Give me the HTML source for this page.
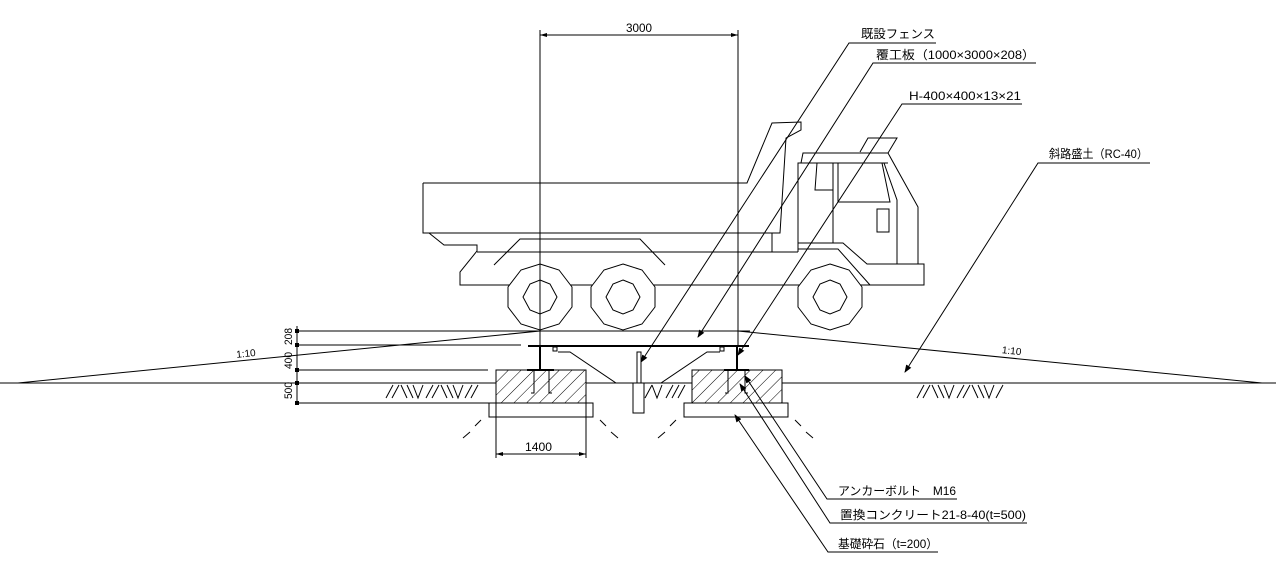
<!DOCTYPE html>
<html><head><meta charset="utf-8"><style>
html,body{margin:0;padding:0;background:#fff;}
svg{display:block;}
text{font-family:"Liberation Sans","Noto Sans CJK JP",sans-serif;fill:#000;}
</style></head><body>
<svg width="1276" height="562" viewBox="0 0 1276 562" xmlns="http://www.w3.org/2000/svg">
<defs>
<pattern id="h" width="9" height="9" patternUnits="userSpaceOnUse" patternTransform="rotate(45)">
<line x1="0" y1="0" x2="0" y2="9" stroke="#000" stroke-width="1"/>
</pattern>
<marker id="a" markerWidth="8" markerHeight="6" refX="7" refY="3" orient="auto" markerUnits="userSpaceOnUse"><path d="M0,0 L8,3 L0,6z" fill="#000"/></marker>
</defs>
<g fill="none" stroke="#000" stroke-width="1">
<line x1="0" y1="383" x2="496" y2="383"/>
<line x1="586" y1="383" x2="633" y2="383"/>
<line x1="644" y1="383" x2="692" y2="383"/>
<line x1="782" y1="383" x2="1276" y2="383"/>
<polyline points="18,383 540,331"/>
<polyline points="738,331 1262,383"/>
<line x1="296" y1="331" x2="750" y2="331"/>
<line x1="296" y1="345" x2="521" y2="345"/>
<line x1="528" y1="346" x2="749" y2="346" stroke-width="2"/>
<rect x="553" y="347" width="4" height="4"/>
<rect x="720" y="347" width="4" height="4"/>
<line x1="296" y1="370" x2="488" y2="370"/>
<line x1="540" y1="347" x2="540" y2="370" stroke-width="2"/>
<line x1="737" y1="347" x2="737" y2="370" stroke-width="2"/>
<line x1="527" y1="370" x2="554" y2="370" stroke-width="2"/>
<line x1="724" y1="370" x2="749" y2="370" stroke-width="2"/>
<polyline points="558,352 570,352 616,383"/>
<polyline points="720,352 707,352 661,383"/>
<rect x="496" y="370" width="90" height="33" fill="url(#h)"/>
<rect x="692" y="370" width="90" height="33" fill="url(#h)"/>
<rect x="489" y="403" width="104" height="14" fill="#fff"/>
<rect x="684" y="403" width="104" height="14" fill="#fff"/>
<polyline points="534,370 534,393 531,393"/>
<polyline points="549,370 549,393 552,393"/>
<polyline points="728,370 728,393 725,393"/>
<polyline points="745,370 745,393 748,393"/>
<rect x="637" y="352" width="4" height="31"/>
<rect x="633" y="383" width="11" height="30"/>
<path d="M386,398 L393,385 M392,398 L399,385 M401,385 L407,398 M407,385 L413,398 M413,385 L418,398 L423,385 M426,398 L433,385 M432,398 L439,385 M441,385 L447,398 M447,385 L453,398 M453,385 L458,398 L463,385 M465,398 L472,385 M471,398 L478,385"/>
<path d="M645,398 L652,385 M652,385 L657,398 L662,385 M666,398 L673,385 M672,398 L679,385 M678,398 L685,385"/>
<path d="M917,398 L924,385 M923,398 L930,385 M932,385 L938,398 M938,385 L944,398 M944,385 L949,398 L954,385 M957,398 L964,385 M963,398 L970,385 M972,385 L978,398 M978,385 L984,398 M984,385 L989,398 L994,385 M996,398 L1003,385"/>
<path d="M481,420 L475,426 M470,432 L463,438 M600,420 L606,426 M611,432 L618,438 M676,420 L670,426 M665,432 L658,438 M795,420 L801,426 M806,432 L813,438"/>
<line x1="297" y1="326" x2="297" y2="404"/>
<line x1="540" y1="30" x2="540" y2="346"/>
<line x1="738" y1="30" x2="738" y2="346"/>
<line x1="540" y1="35" x2="738" y2="35"/>
<line x1="496" y1="403" x2="496" y2="458"/>
<line x1="586" y1="403" x2="586" y2="458"/>
<line x1="496" y1="454" x2="586" y2="454"/>
<line x1="296" y1="403" x2="496" y2="403"/>
<polyline points="423,183 747,183 772,123 801,122 801,130 786,138 780,233 423,233 423,183"/>
<polyline points="429,233 444,245 477,245 477,251 460,272 460,285 924,285 924,264 867,264 843,243 798,243"/>
<line x1="477" y1="252" x2="798" y2="252"/>
<line x1="772" y1="233" x2="772" y2="252"/>
<polyline points="494,265 520,239 640,239 665,265"/>
<polyline points="798,252 798,163 888,163"/>
<polyline points="801,163 803,153 888,153 918,207 918,264"/>
<polyline points="860,152 868,138 897,138 888,153"/>
<line x1="833" y1="163" x2="833" y2="243"/>
<polyline points="838,163 838,202 890,202 882,163"/>
<polyline points="884,163 897,200 897,264"/>
<polyline points="817,163 815,190 833,190"/>
<rect x="877" y="209" width="12" height="23"/>
<polyline points="798,249 838,249 870,285"/>
<polygon points="540,264 559,270 572,287 572,307 559,324 540,330 521,324 508,307 508,287 521,270" fill="#fff"/>
<polygon points="540,280 550,284 557,297 550,310 540,314 530,310 523,297 530,284"/>
<polygon points="623,264 642,270 655,287 655,307 642,324 623,330 604,324 591,307 591,287 604,270" fill="#fff"/>
<polygon points="623,280 633,284 640,297 633,310 623,314 613,310 606,297 613,284"/>
<polygon points="830,264 849,270 862,287 862,307 849,324 830,330 811,324 798,307 798,287 811,270" fill="#fff"/>
<polygon points="830,280 840,284 847,297 840,310 830,314 820,310 813,297 820,284"/>
<line x1="540" y1="264" x2="540" y2="346"/>
<polyline points="936,43 849,43 641,362" marker-end="url(#a)"/>
<polyline points="1036,63 873,63 698,337" marker-end="url(#a)"/>
<polyline points="1022,104 902,104 738,355" marker-end="url(#a)"/>
<polyline points="1150,163 1038,163 905,372" marker-end="url(#a)"/>
<polyline points="957,499 827,499 745,376" marker-end="url(#a)"/>
<polyline points="1027,523 830,523 740,384" marker-end="url(#a)"/>
<polyline points="938,552 828,552 735,415" marker-end="url(#a)"/>
</g>
<g fill="#000">
<rect x="295" y="329" width="4" height="4"/><rect x="295" y="343" width="4" height="4"/><rect x="295" y="368" width="4" height="4"/><rect x="295" y="381" width="4" height="4"/><rect x="295" y="401" width="4" height="4"/>
<path d="M540,35 l7,-2 v4z M738,35 l-7,-2 v4z M496,454 l7,-2 v4z M586,454 l-7,-2 v4z"/>
</g>
<g font-size="12">
<text x="626" y="32" textLength="26" lengthAdjust="spacingAndGlyphs">3000</text>
<text x="525" y="451" textLength="27" lengthAdjust="spacingAndGlyphs">1400</text>
<text x="861" y="38" textLength="74" lengthAdjust="spacingAndGlyphs">既設フェンス</text>
<text x="876" y="59" textLength="159" lengthAdjust="spacingAndGlyphs">覆工板（1000×3000×208）</text>
<text x="909" y="100" textLength="112" lengthAdjust="spacingAndGlyphs">H-400×400×13×21</text>
<text x="1049" y="158" textLength="99" lengthAdjust="spacingAndGlyphs">斜路盛土（RC-40）</text>
<text x="838" y="495" textLength="118" lengthAdjust="spacingAndGlyphs">アンカーボルト　M16</text>
<text x="840" y="519" textLength="186" lengthAdjust="spacingAndGlyphs">置換コンクリート21-8-40(t=500)</text>
<text x="838" y="548" textLength="100" lengthAdjust="spacingAndGlyphs">基礎砕石（t=200）</text>
<text x="236" y="357" font-size="10" transform="rotate(-6 245 352)">1:10</text>
<text x="1002" y="354" font-size="10" transform="rotate(6 1010 350)">1:10</text>
<text transform="translate(292,345) rotate(-90)" font-size="11" textLength="17" lengthAdjust="spacingAndGlyphs">208</text>
<text transform="translate(292,369) rotate(-90)" font-size="11" textLength="17" lengthAdjust="spacingAndGlyphs">400</text>
<text transform="translate(292,399) rotate(-90)" font-size="11" textLength="17" lengthAdjust="spacingAndGlyphs">500</text>
</g>
</svg>
</body></html>
